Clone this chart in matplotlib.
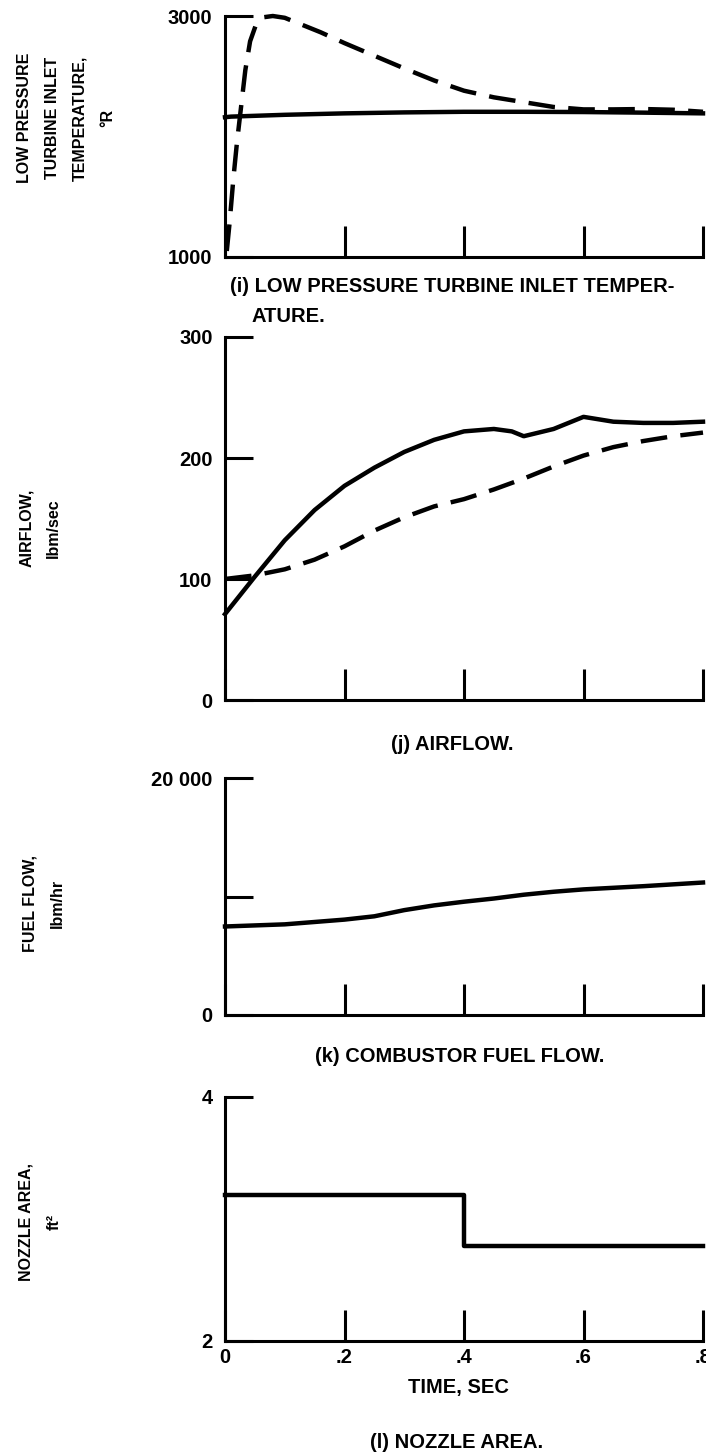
import matplotlib
matplotlib.use("Agg")
import matplotlib.pyplot as plt

W, H = 706, 1455
plt.rcParams["font.family"] = ["Liberation Sans", "DejaVu Sans"]
plt.rcParams["font.weight"] = "bold"

# (i) low pressure turbine inlet temperature, deg R
t_temp_solid = [0.0, 0.01, 0.1, 0.2, 0.3, 0.4, 0.5, 0.6, 0.7, 0.8]
temp_solid = [2160, 2165, 2180, 2192, 2200, 2205, 2205, 2203, 2198, 2192]
t_temp_dash = [0.003, 0.008, 0.014, 0.02, 0.027, 0.034, 0.042, 0.052, 0.065, 0.08,
               0.1, 0.13, 0.16, 0.2, 0.25, 0.3, 0.35, 0.4, 0.45, 0.5, 0.55, 0.6,
               0.65, 0.7, 0.75, 0.8]
temp_dash = [1050, 1300, 1650, 1950, 2250, 2550, 2790, 2930, 2990, 3000,
             2985, 2925, 2865, 2775, 2670, 2565, 2465, 2380, 2325, 2285, 2245, 2225,
             2225, 2228, 2222, 2205]

# (j) airflow, lbm/sec
t_air = [0.0, 0.05, 0.1, 0.15, 0.2, 0.25, 0.3, 0.35, 0.4, 0.45, 0.48, 0.5, 0.55,
         0.58, 0.6, 0.65, 0.7, 0.75, 0.8]
air_solid = [71, 102, 132, 157, 177, 192, 205, 215, 222, 224, 222, 218, 224,
             230, 234, 230, 229, 229, 230]
t_air_dash = [0.0, 0.05, 0.1, 0.15, 0.2, 0.25, 0.3, 0.35, 0.4, 0.45, 0.5, 0.55,
              0.6, 0.65, 0.7, 0.75, 0.8]
air_dash = [100, 103, 108, 116, 127, 140, 151, 160, 166, 174, 183, 193,
            202, 209, 214, 218, 221]

# (k) combustor fuel flow, lbm/hr
t_fuel = [0.0, 0.1, 0.2, 0.25, 0.3, 0.35, 0.4, 0.45, 0.5, 0.55, 0.6, 0.7, 0.8]
fuel = [7470, 7650, 8050, 8330, 8850, 9250, 9560, 9830, 10150, 10400, 10600, 10870, 11180]

# (l) nozzle area, ft^2
t_noz = [0.0, 0.4, 0.8]
noz = [3.2, 2.78, 2.78]

x_ticks = [0, 0.2, 0.4, 0.6, 0.8]
x_labels = ["0", ".2", ".4", ".6", ".8"]

fig = plt.figure(figsize=(W / 100, H / 100), dpi=100)


def px_axes(y_top, y_bot, x0=225, x1=703):
    return fig.add_axes([x0 / W, 1 - y_bot / H, (x1 - x0) / W, (y_bot - y_top) / H])


def style(ax, ylim, yticks, ylabels, show_x=False):
    ax.set_xlim(0, 0.8)
    ax.set_ylim(*ylim)
    for s in ("top", "right"):
        ax.spines[s].set_visible(False)
    for s in ("left", "bottom"):
        ax.spines[s].set_linewidth(2.2)
    ax.set_xticks(x_ticks)
    ax.set_xticklabels(x_labels if show_x else [])
    ax.set_yticks(yticks)
    ax.set_yticklabels(ylabels)
    ax.tick_params(direction="in", width=2.2, labelsize=14.5)
    ax.tick_params(axis="x", length=22, pad=5)
    ax.tick_params(axis="y", length=20, pad=9)


lw = 3.2
dash = (0, (6, 3))

ax1 = px_axes(16, 257)
ax1.plot(t_temp_solid, temp_solid, color="black", lw=lw, clip_on=False)
ax1.plot(t_temp_dash, temp_dash, color="black", lw=lw, ls=dash, clip_on=False)
style(ax1, (1000, 3000), [1000, 3000], ["1000", "3000"])

ax2 = px_axes(337, 700)
ax2.plot(t_air, air_solid, color="black", lw=lw, clip_on=False)
ax2.plot(t_air_dash, air_dash, color="black", lw=lw, ls=dash, clip_on=False)
style(ax2, (0, 300), [0, 100, 200, 300], ["0", "100", "200", "300"])

ax3 = px_axes(778, 1015)
ax3.plot(t_fuel, fuel, color="black", lw=lw, clip_on=False)
style(ax3, (0, 20000), [0, 10000, 20000], ["0", "", "20 000"])

ax4 = px_axes(1097, 1341)
ax4.step(t_noz, noz, where="post", color="black", lw=lw, clip_on=False)
style(ax4, (2, 4), [2, 4], ["2", "4"], show_x=True)


def ftext(x, y, s, **kw):
    fig.text(x / W, 1 - y / H, s, **kw)


ylab = dict(rotation=90, ha="center", va="center", multialignment="center",
            fontsize=11.5, linespacing=2.05)
ftext(66, 118, "LOW PRESSURE\nTURBINE INLET\nTEMPERATURE,\n°R", **ylab)
ftext(40, 528, "AIRFLOW,\nlbm/sec", **ylab)
ftext(44, 903, "FUEL FLOW,\nlbm/hr", **ylab)
ftext(40, 1222, "NOZZLE AREA,\nft²", **ylab)

cap = dict(fontsize=14.5, va="center")
ftext(230, 287, "(i) LOW PRESSURE TURBINE INLET TEMPER-", ha="left", **cap)
ftext(252, 317, "ATURE.", ha="left", **cap)
ftext(452, 745, "(j) AIRFLOW.", ha="center", **cap)
ftext(460, 1057, "(k) COMBUSTOR FUEL FLOW.", ha="center", **cap)
ftext(458, 1387, "TIME, SEC", ha="center", **cap)
ftext(457, 1442, "(l) NOZZLE AREA.", ha="center", **cap)

fig.savefig("out.png", dpi=100)
